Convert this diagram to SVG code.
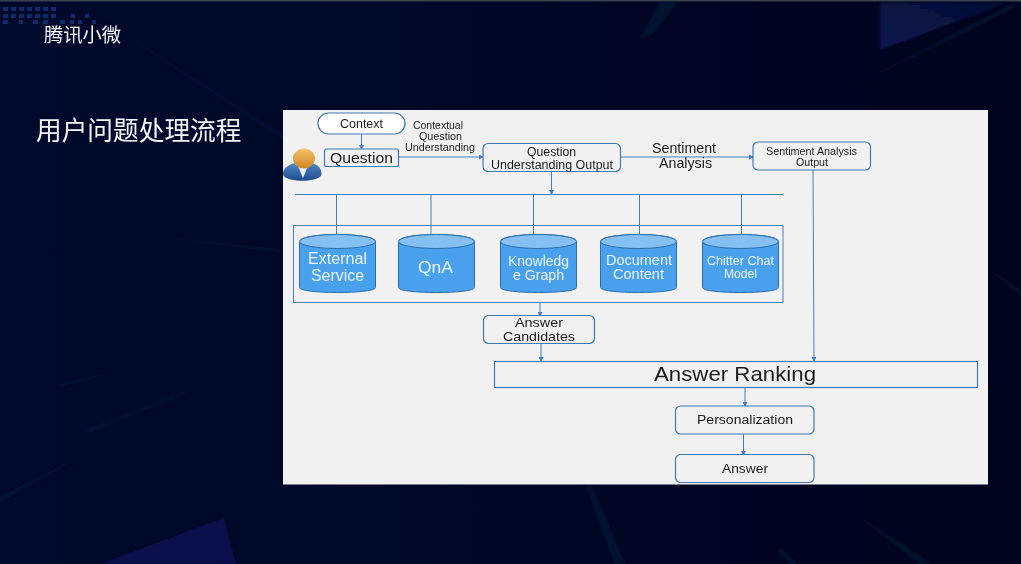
<svg xmlns="http://www.w3.org/2000/svg" width="1021" height="564" viewBox="0 0 1021 564">
<defs>
<linearGradient id="bg" x1="0" y1="0" x2="1" y2="0"><stop offset="0" stop-color="#010a2c"/><stop offset="0.5" stop-color="#000726"/><stop offset="1" stop-color="#00041e"/></linearGradient>
<linearGradient id="head" x1="0" y1="0" x2="0" y2="1"><stop offset="0" stop-color="#f5c070"/><stop offset="1" stop-color="#cf8820"/></linearGradient>
<linearGradient id="body" x1="0" y1="0" x2="0" y2="1"><stop offset="0" stop-color="#4f86c8"/><stop offset="1" stop-color="#1f4c8c"/></linearGradient>
<linearGradient id="tr" x1="0" y1="1" x2="1" y2="0"><stop offset="0" stop-color="#081650"/><stop offset="1" stop-color="#060f34"/></linearGradient>
<filter id="soft" x="-2%" y="-2%" width="104%" height="104%"><feGaussianBlur stdDeviation="0.35"/></filter>
<filter id="haze" x="-10%" y="-10%" width="120%" height="120%"><feGaussianBlur stdDeviation="1.2"/></filter>
<marker id="a" markerWidth="5" markerHeight="5" refX="4" refY="2.500" orient="auto" markerUnits="userSpaceOnUse"><path d="M0 0L5 2.500L0 5z" fill="#3f7fbf"/></marker>
<symbol id="cyl" overflow="visible"><path d="M0 7C0 -2.300 76 -2.300 76 7V53C76 59.700 0 59.700 0 53Z" fill="#4aa0ec" stroke="#2a6fae" stroke-width="1"/><ellipse cx="38" cy="7" rx="38" ry="7" fill="#86bff2" stroke="#2a6fae" stroke-width="1"/></symbol>
</defs>
<style>
.l{fill:none;stroke:#4380bc;stroke-width:1}
.b{fill:#f1f1f1;stroke:#3f78b5;stroke-width:1.200}
.t{font-family:"Liberation Sans",Arial,sans-serif;fill:#1c1c1c;text-anchor:middle}
.w{font-family:"Liberation Sans",Arial,sans-serif;fill:#e8f3fd;text-anchor:middle}
.c{font-family:"Noto Sans CJK SC","Noto Sans",sans-serif;fill:#f4f6fa;font-weight:400}
.s{fill:#04283f;opacity:.45}
.d{fill:#0f2c68}
</style>
<rect width="1021" height="564" fill="url(#bg)"/>
<g id="background">
<rect width="1021" height="1.500" fill="#3a4450"/>
<g filter="url(#haze)">
<path d="M90 12L480 262L470 262Z" fill="#06284a" opacity=".4"/>
<path class="s" d="M640 38L653 34L678 2H660Z"/>
<path d="M880 3H1007L880 50Z" fill="url(#tr)"/>
<path class="s" d="M855 85L1010 5L1021 5Z" opacity=".35"/>
<path class="s" d="M0 497L80 457L0 502Z"/>
<path d="M100 564L224 518L236 564Z" fill="#1a1a66" opacity=".55"/>
<path class="s" d="M586 486H592L625 564H615Z"/>
<path class="s" d="M777 550H783L798 564H790Z"/>
<path class="s" d="M862 519L868 522L932 564H920Z"/>
<path class="s" d="M60 384L140 366L60 386Z" opacity=".35"/>
<path class="s" d="M85 430L225 377L90 432Z" opacity=".35"/>
<path class="s" d="M125 232L280 250V252Z" opacity=".3"/>
<path class="s" d="M990 270L1021 290V296Z" opacity=".35"/>
</g>
<g class="d"><rect x="3" y="7" width="5" height="4"/><rect x="11" y="7" width="5" height="4"/><rect x="19" y="7" width="5" height="4"/><rect x="27" y="7" width="5" height="4"/><rect x="35" y="7" width="5" height="4"/><rect x="43" y="7" width="5" height="4"/><rect x="51" y="7" width="5" height="4"/>
<rect x="3" y="14" width="5" height="4"/><rect x="11" y="14" width="5" height="4"/><rect x="19" y="14" width="5" height="4"/><rect x="27" y="14" width="5" height="4"/><rect x="35" y="14" width="5" height="4"/><rect x="43" y="14" width="5" height="4"/><rect x="51" y="14" width="5" height="4"/><rect x="71" y="14" width="4" height="4"/><rect x="85" y="14" width="4" height="4"/>
<rect x="3" y="20" width="5" height="4"/><rect x="19" y="20" width="4" height="4"/><rect x="33" y="20" width="5" height="4"/><rect x="43" y="20" width="5" height="4"/><rect x="60" y="20" width="5" height="4"/><rect x="70" y="20" width="4" height="4"/><rect x="78" y="20" width="4" height="4"/><rect x="92" y="20" width="4" height="4"/></g>
</g>
<text class="c" x="44" y="42" font-size="19.300">腾讯小微</text>
<text class="c" x="36" y="140" font-size="25.700">用户问题处理流程</text>
<rect id="panel" x="283" y="110" width="705" height="374.500" fill="#f1f1f1"/>
<g filter="url(#soft)">
<g id="connectors">
<path class="l" d="M361.500 134V149" marker-end="url(#a)"/>
<path class="l" d="M399 157H483" marker-end="url(#a)"/>
<path class="l" d="M620.500 157H753" marker-end="url(#a)"/>
<path class="l" d="M551.500 172V194" marker-end="url(#a)"/>
<path class="l" d="M295 194.500H783"/>
<path class="l" d="M336.500 195V235M431 195V235M533.500 195V235M639.500 195V235M741.500 195V235"/>
<path class="l" d="M540 303V316" marker-end="url(#a)"/>
<path class="l" d="M541 344V361" marker-end="url(#a)"/>
<path class="l" d="M813 170L814 361" marker-end="url(#a)"/>
<path class="l" d="M745 387.500V406" marker-end="url(#a)"/>
<path class="l" d="M743.500 434V455" marker-end="url(#a)"/>
</g>
<g id="store-frame"><rect x="293.500" y="225.500" width="489.500" height="77" fill="none" stroke="#4a80b8"/></g>
<g id="context"><rect x="318" y="113" width="87" height="21" rx="10.500" fill="#fff" stroke="#3f78b5" stroke-width="1.200"/><text class="t" x="361.500" y="128" font-size="12.500" textLength="43" lengthAdjust="spacingAndGlyphs">Context</text></g>
<g id="contextual-label"><text class="t" font-size="10.500" x="438" y="129" textLength="50" lengthAdjust="spacingAndGlyphs">Contextual</text><text class="t" font-size="10.500" x="440.500" y="139.500" textLength="43" lengthAdjust="spacingAndGlyphs">Question</text><text class="t" font-size="10.500" x="440" y="151" textLength="70" lengthAdjust="spacingAndGlyphs">Understanding</text></g>
<g id="user"><path d="M283 174C283 167 291 163 297 163H309C316 163 321.500 167 321.500 174C321.500 183 283 183 283 174Z" fill="url(#body)"/><path d="M298 166L303 178L308 166Z" fill="#e8eef5"/><ellipse cx="304" cy="158.500" rx="11" ry="10" fill="url(#head)"/></g>
<g id="question"><rect class="b" x="324.500" y="149" width="74" height="17.500" rx="2"/><text class="t" x="361.500" y="163" font-size="15" textLength="63" lengthAdjust="spacingAndGlyphs">Question</text></g>
<g id="qu-output"><rect class="b" x="483" y="143.500" width="137.500" height="28" rx="5"/><text class="t" x="551.500" y="155.500" font-size="12" textLength="49" lengthAdjust="spacingAndGlyphs">Question</text><text class="t" x="552" y="168.500" font-size="12" textLength="122" lengthAdjust="spacingAndGlyphs">Understanding Output</text></g>
<g id="sentiment-label"><text class="t" x="684" y="152.500" font-size="14.500" textLength="64" lengthAdjust="spacingAndGlyphs">Sentiment</text><text class="t" x="685.500" y="167.500" font-size="14.500" textLength="53" lengthAdjust="spacingAndGlyphs">Analysis</text></g>
<g id="sa-output"><rect class="b" x="753" y="142" width="117.500" height="28" rx="5"/><text class="t" x="811.500" y="154.500" font-size="10.800" textLength="91" lengthAdjust="spacingAndGlyphs">Sentiment Analysis</text><text class="t" x="812" y="165.500" font-size="10.800" textLength="32" lengthAdjust="spacingAndGlyphs">Output</text></g>
<g id="external"><use href="#cyl" x="299.500" y="234.500"/><text class="w" x="337.500" y="263.500" font-size="16" textLength="59" lengthAdjust="spacingAndGlyphs">External</text><text class="w" x="337.500" y="280.500" font-size="16" textLength="53" lengthAdjust="spacingAndGlyphs">Service</text></g>
<g id="qna"><use href="#cyl" x="398.500" y="234.500"/><text class="w" x="435.500" y="272.500" font-size="17" textLength="35" lengthAdjust="spacingAndGlyphs">QnA</text></g>
<g id="kg"><use href="#cyl" x="500.500" y="234.500"/><text class="w" x="538.500" y="265.500" font-size="14.500" textLength="61" lengthAdjust="spacingAndGlyphs">Knowledg</text><text class="w" x="538.500" y="280" font-size="14.500" textLength="51" lengthAdjust="spacingAndGlyphs">e Graph</text></g>
<g id="doc"><use href="#cyl" x="600.500" y="234.500"/><text class="w" x="639" y="264.500" font-size="14.200" textLength="66" lengthAdjust="spacingAndGlyphs">Document</text><text class="w" x="638.500" y="278.500" font-size="14.200" textLength="51" lengthAdjust="spacingAndGlyphs">Content</text></g>
<g id="chitter"><use href="#cyl" x="702.500" y="234.500"/><text class="w" x="740.500" y="265" font-size="12" textLength="67" lengthAdjust="spacingAndGlyphs">Chitter Chat</text><text class="w" x="740.500" y="277.500" font-size="12" textLength="33" lengthAdjust="spacingAndGlyphs">Model</text></g>
<g id="candidates"><rect class="b" x="483.500" y="315.500" width="111" height="28" rx="5"/><text class="t" x="539" y="327" font-size="12.800" textLength="48" lengthAdjust="spacingAndGlyphs">Answer</text><text class="t" x="539" y="341" font-size="12.800" textLength="72" lengthAdjust="spacingAndGlyphs">Candidates</text></g>
<g id="ranking"><rect class="b" x="494.500" y="361.500" width="483" height="26"/><text class="t" x="735" y="381" font-size="21" textLength="162" lengthAdjust="spacingAndGlyphs">Answer Ranking</text></g>
<g id="personalization"><rect class="b" x="675.500" y="406" width="138.500" height="28" rx="5"/><text class="t" x="745" y="424" font-size="12.500" textLength="96" lengthAdjust="spacingAndGlyphs">Personalization</text></g>
<g id="answer"><rect class="b" x="675.500" y="454.500" width="138.500" height="28" rx="5"/><text class="t" x="745" y="472.500" font-size="12.500" textLength="46" lengthAdjust="spacingAndGlyphs">Answer</text></g>
</g>
</svg>
